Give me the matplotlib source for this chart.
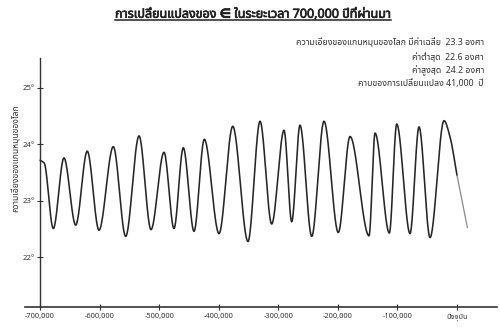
import numpy as np
import matplotlib
matplotlib.use("Agg")
import matplotlib.pyplot as plt
import matplotlib.patheffects as pe
from matplotlib import font_manager
from matplotlib.ft2font import FT2Font

# ---------------- data ----------------
past_years = [-700000, -693000, -677700, -659800, -640100, -620700, -601000, -577000,
              -556200, -533800, -513700, -491900, -475100, -459500, -441500, -424200,
              -399500, -376500, -350900, -330700, -311100, -290400, -277500, -263600,
              -243900, -223300, -199300, -179600, -147700, -137600, -113600, -101200,
              -78900, -63800, -45300, -21800, -11700, 0]
past_tilt = [23.72, 23.67, 22.51, 23.76, 22.57, 23.88, 22.48, 23.96,
             22.37, 24.15, 22.49, 23.86, 22.51, 23.94, 22.46, 24.09,
             22.42, 24.32, 22.28, 24.41, 22.59, 24.25, 22.63, 24.34,
             22.37, 24.41, 22.44, 24.14, 22.38, 24.20, 22.43, 24.36,
             22.42, 24.31, 22.35, 24.42, 24.13, 23.45]
future_years = [0, 17300]
future_tilt = [23.45, 22.53]

x_ticks = [-700000, -600000, -500000, -400000, -300000, -200000, -100000, 0]
x_tick_labels = ["-700,000", "-600,000", "-500,000", "-400,000", "-300,000",
                 "-200,000", "-100,000", "ปัจจุบัน"]
y_ticks = [22, 23, 24, 25]
y_tick_labels = ["22°", "23°", "24°", "25°"]

title = "การเปลี่ยนแปลงของ ∈ ในระยะเวลา 700,000 ปีที่ผ่านมา"
y_label = "ความเอียงของแกนหมุนของโลก"
notes = ["ความเอียงของแกนหมุนของโลก มีค่าเฉลี่ย  23.3 องศา",
         "ค่าต่ำสุด  22.6 องศา",
         "ค่าสูงสุด  24.2 องศา",
         "คาบของการเปลี่ยนแปลง 41,000  ปี"]

# ---------------- fonts ----------------
def find_thai_font():
    pref = ["Noto Sans Thai", "Noto Sans Thai UI", "Loma", "Garuda", "Tlwg Typo",
            "Norasi", "Sawasdee", "Kinnari", "Umpush", "Waree", "Laksaman"]
    found = {}
    for fe in font_manager.fontManager.ttflist:
        try:
            cm = FT2Font(fe.fname).get_charmap()
        except Exception:
            continue
        if 0x0E01 in cm and 0x0E32 in cm:
            found.setdefault(fe.name, fe.fname)
    for p in pref:
        if p in found:
            return p
    if found:
        return sorted(found)[0]
    return "DejaVu Sans"

thai = find_thai_font()
fam = [thai, "Liberation Sans", "DejaVu Sans"]
plt.rcParams["font.family"] = fam

# ---------------- smoothing for rendering ----------------
def pchip(x, y, xs):
    x = np.asarray(x, float); y = np.asarray(y, float)
    h = np.diff(x); d = np.diff(y) / h
    n = len(x); m = np.zeros(n)
    for k in range(1, n - 1):
        if d[k - 1] * d[k] > 0:
            w1 = 2 * h[k] + h[k - 1]; w2 = h[k] + 2 * h[k - 1]
            m[k] = (w1 + w2) / (w1 / d[k - 1] + w2 / d[k])
    m[0] = d[0]; m[-1] = d[-1]
    idx = np.clip(np.searchsorted(x, xs) - 1, 0, n - 2)
    t = (xs - x[idx]) / h[idx]
    h00 = 2 * t**3 - 3 * t**2 + 1; h10 = t**3 - 2 * t**2 + t
    h01 = -2 * t**3 + 3 * t**2; h11 = t**3 - t**2
    return h00 * y[idx] + h10 * h[idx] * m[idx] + h01 * y[idx + 1] + h11 * h[idx] * m[idx + 1]

xs = np.linspace(past_years[0], past_years[-1], 3000)
ys = pchip(past_years, past_tilt, xs)

# ---------------- figure ----------------
fig = plt.figure(figsize=(5.0, 3.31), dpi=100)
fig.patch.set_facecolor("white")
ax = fig.add_axes([0.05, 0.0725, 0.944, 0.7523])
ax.set_xlim(-725200, 67100)
ax.set_ylim(21.12, 25.53)

ax.plot(xs, ys, color="#262626", lw=1.15, solid_capstyle="round")
ax.plot(future_years, future_tilt, color="#8a8a8a", lw=0.9)

for s in ["top", "right"]:
    ax.spines[s].set_visible(False)
ax.spines["left"].set_position(("data", -700000))
ax.spines["left"].set_color("#333333")
ax.spines["bottom"].set_color("#333333")
ax.spines["left"].set_linewidth(1.0)
ax.spines["bottom"].set_linewidth(1.2)

ax.set_xticks(x_ticks)
ax.set_xticklabels(x_tick_labels, fontsize=5.3, color="#333333")
ax.set_yticks(y_ticks)
ax.set_yticklabels(y_tick_labels, fontsize=5.6, color="#333333")
ax.tick_params(axis="x", direction="inout", length=5, width=0.8, pad=2, colors="#333333")
ax.tick_params(axis="y", direction="inout", length=5, width=0.8, pad=1, colors="#333333")

fig.text(0.03, 0.523, y_label, rotation=90, ha="center", va="center",
         fontsize=6.2, color="#333333")

# title with underline
ttl = fig.text(0.506, 0.957, title, ha="center", va="center", fontsize=9,
               fontweight="bold", color="#222222",
               path_effects=[pe.withStroke(linewidth=0.5, foreground="#222222")])
fig.canvas.draw()
bb = ttl.get_window_extent(renderer=fig.canvas.get_renderer())
inv = fig.transFigure.inverted()
(x0, y0), (x1, y1) = inv.transform([(bb.x0, bb.y0), (bb.x1, bb.y1)])
fig.add_artist(plt.Line2D([x0, x1], [y0 + 0.002, y0 + 0.002], transform=fig.transFigure,
                          color="#222222", lw=1.1))

note_y = [0.873, 0.828, 0.785, 0.748]
note_x = [0.968, 0.968, 0.968, 0.966]
for t, xx, yy in zip(notes, note_x, note_y):
    fig.text(xx, yy, t, ha="right", va="center", fontsize=6.3, color="#333333")

fig.savefig("out.png", dpi=100, facecolor="white")
